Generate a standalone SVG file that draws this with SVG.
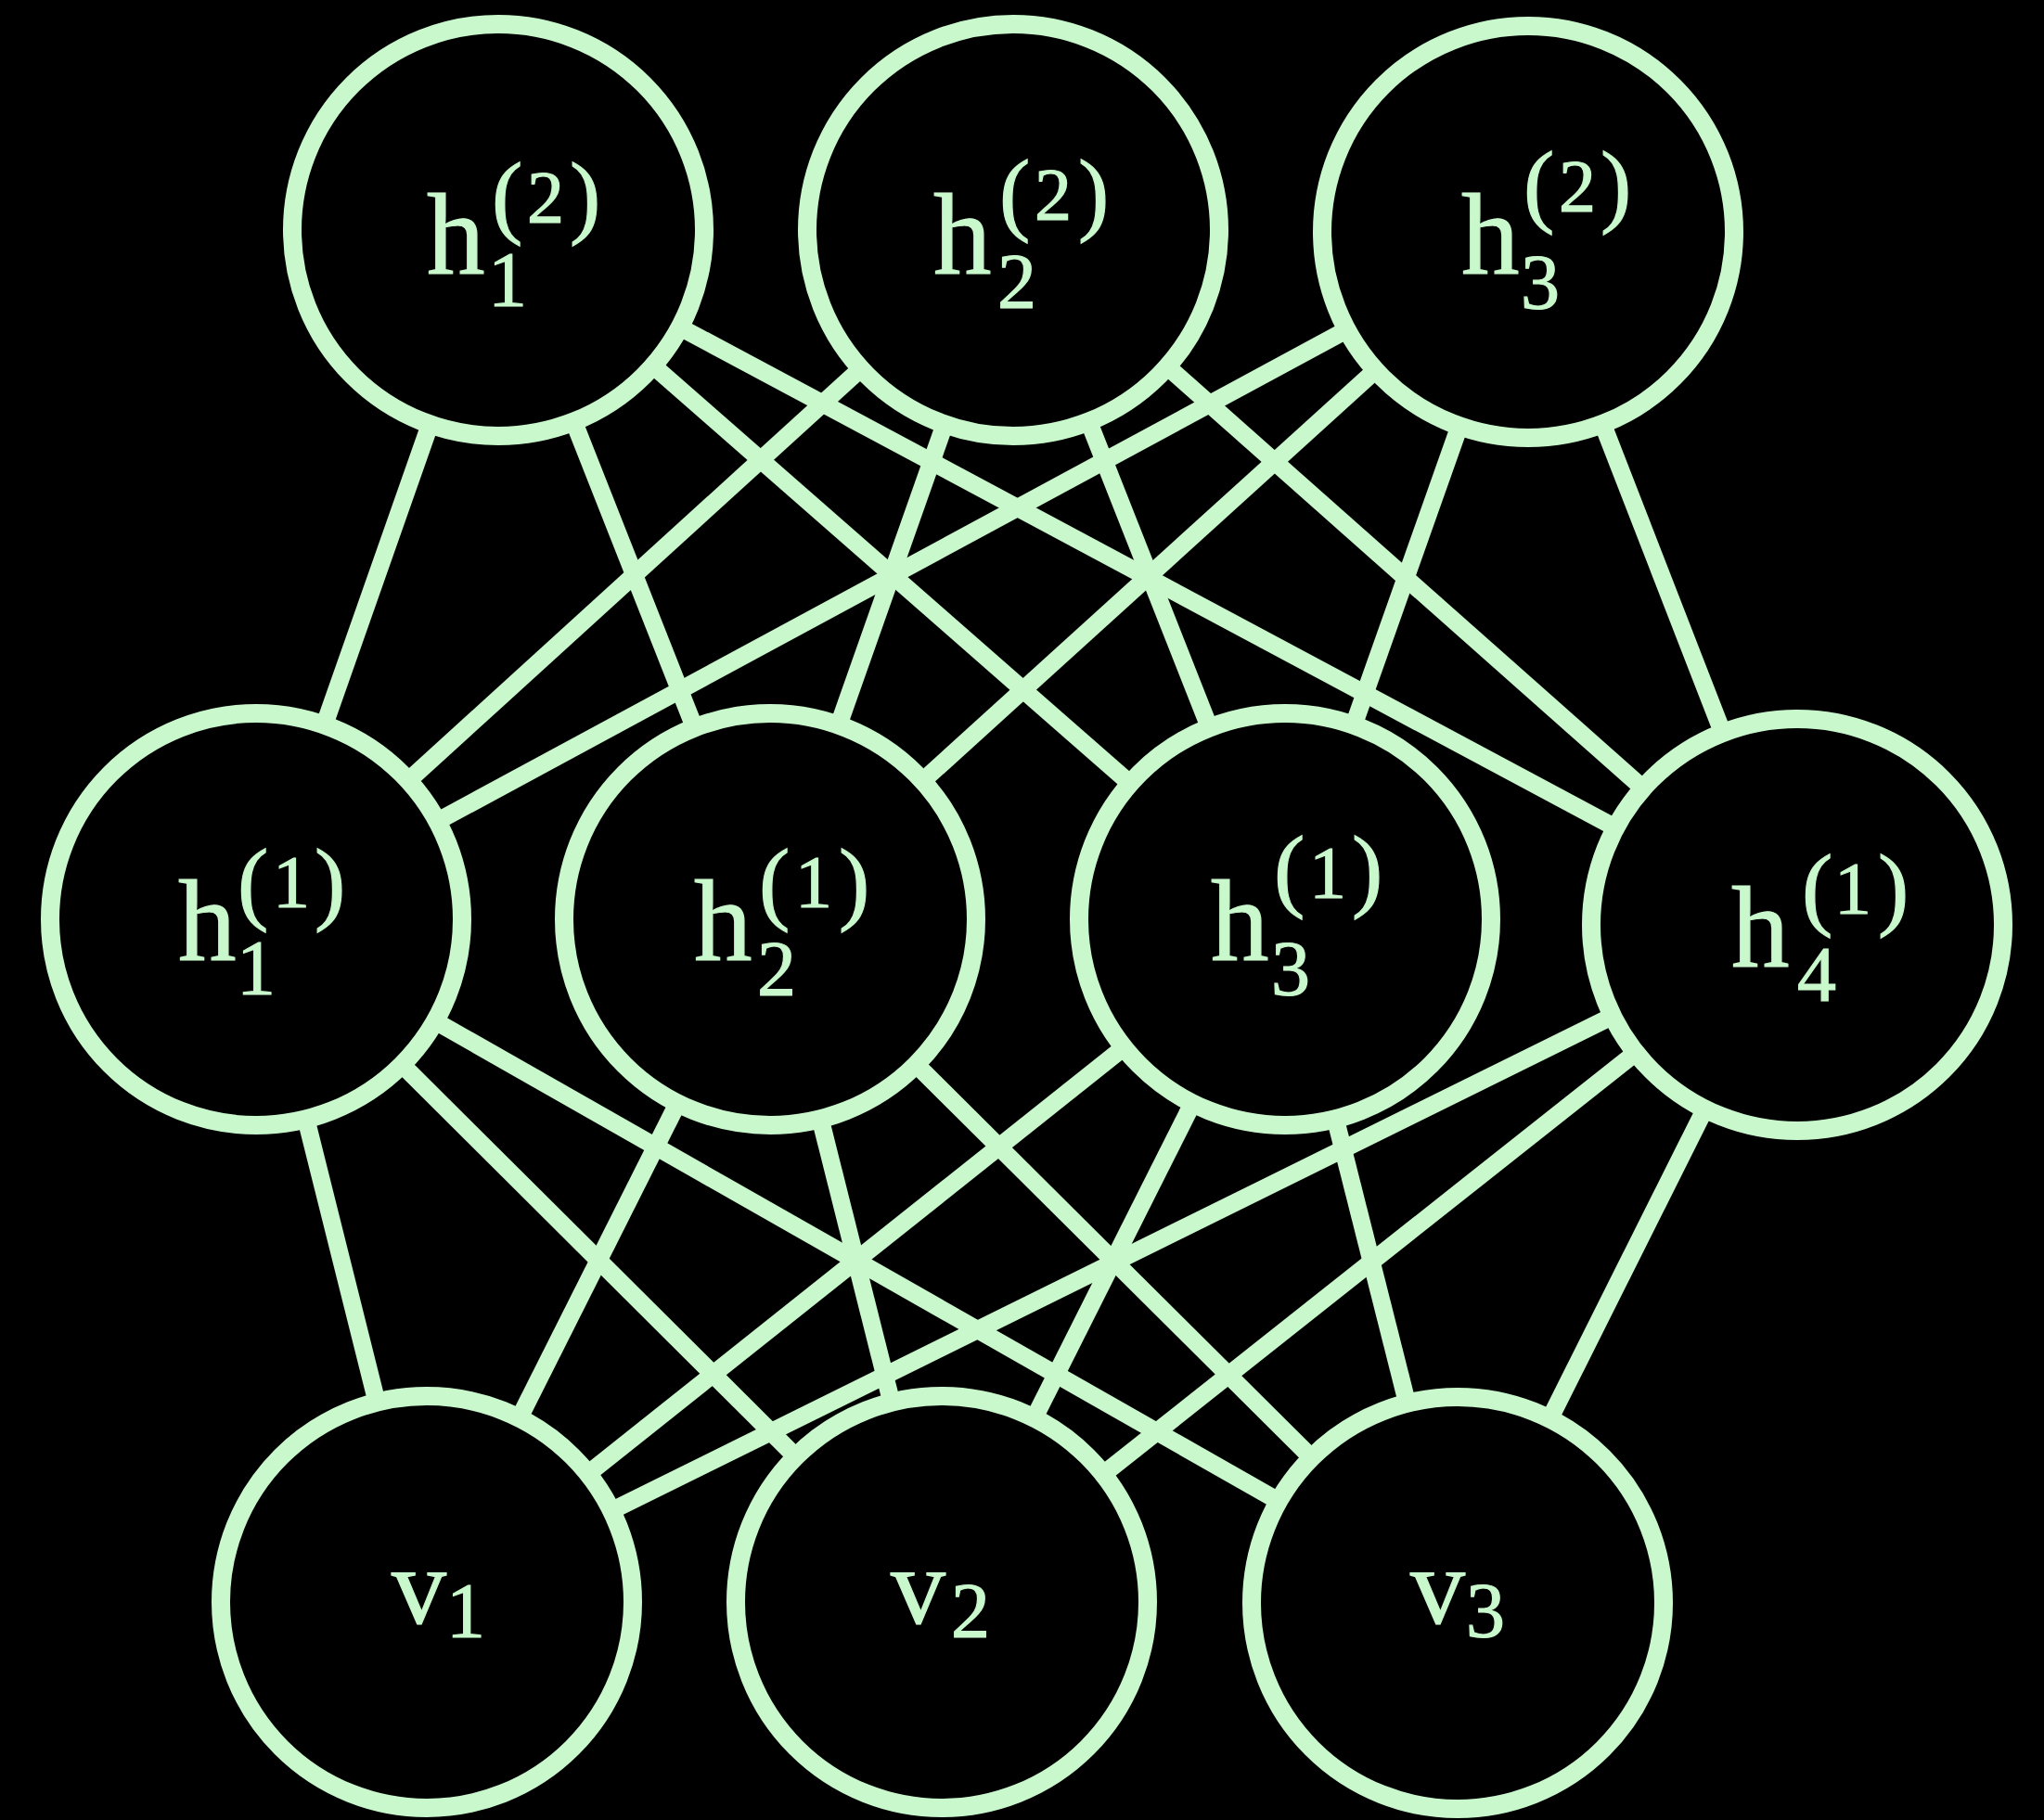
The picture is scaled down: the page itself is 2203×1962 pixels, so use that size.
<svg xmlns="http://www.w3.org/2000/svg" width="2203" height="1962" viewBox="0 0 2203 1962">
  <style>
    .edge { stroke: #c8f8cc; stroke-width: 19; stroke-linecap: butt; }
    .ring { fill: #000000; stroke: #c8f8cc; stroke-width: 20; }
    .lbl { fill: #c8f8cc; stroke: #c8f8cc; stroke-width: 1.2; font-family: "Liberation Serif", "Times New Roman", serif; }
    .big { font-size: 125px; }
    .v { font-size: 118px; }
    .sc { font-size: 80px; }
    .sub { font-size: 84px; }
    .par { font-size: 100px; }
  </style>
  <rect x="0" y="0" width="2203" height="1962" fill="#000000"/>

  <!-- connectors: full bipartite links between consecutive layers -->
  <g id="connectors">
    <!-- h(2) layer to h(1) layer -->
    <line class="edge" x1="537" y1="248" x2="276" y2="991"/>
    <line class="edge" x1="537" y1="248" x2="830" y2="991"/>
    <line class="edge" x1="537" y1="248" x2="1385" y2="991"/>
    <line class="edge" x1="537" y1="248" x2="1937" y2="997"/>
    <line class="edge" x1="1092" y1="248" x2="276" y2="991"/>
    <line class="edge" x1="1092" y1="248" x2="830" y2="991"/>
    <line class="edge" x1="1092" y1="248" x2="1385" y2="991"/>
    <line class="edge" x1="1092" y1="248" x2="1937" y2="997"/>
    <line class="edge" x1="1647" y1="250" x2="276" y2="991"/>
    <line class="edge" x1="1647" y1="250" x2="830" y2="991"/>
    <line class="edge" x1="1647" y1="250" x2="1385" y2="991"/>
    <line class="edge" x1="1647" y1="250" x2="1937" y2="997"/>
    <!-- h(1) layer to visible layer -->
    <line class="edge" x1="276" y1="991" x2="460" y2="1727"/>
    <line class="edge" x1="276" y1="991" x2="1015" y2="1727"/>
    <line class="edge" x1="276" y1="991" x2="1571" y2="1728"/>
    <line class="edge" x1="830" y1="991" x2="460" y2="1727"/>
    <line class="edge" x1="830" y1="991" x2="1015" y2="1727"/>
    <line class="edge" x1="830" y1="991" x2="1571" y2="1728"/>
    <line class="edge" x1="1385" y1="991" x2="460" y2="1727"/>
    <line class="edge" x1="1385" y1="991" x2="1015" y2="1727"/>
    <line class="edge" x1="1385" y1="991" x2="1571" y2="1728"/>
    <line class="edge" x1="1937" y1="997" x2="460" y2="1727"/>
    <line class="edge" x1="1937" y1="997" x2="1015" y2="1727"/>
    <line class="edge" x1="1937" y1="997" x2="1571" y2="1728"/>
  </g>

  <!-- second hidden layer -->
  <g id="h1_2">
    <circle class="ring" cx="537" cy="248" r="222"/>
    <text class="lbl"><tspan class="big" x="460" y="295">h</tspan><tspan class="sub" x="526" y="330">1</tspan><tspan class="par" x="530" y="244">(</tspan><tspan class="sc" x="568" y="240">2</tspan><tspan class="par" x="614" y="244">)</tspan></text>
  </g>
  <g id="h2_2">
    <circle class="ring" cx="1092" cy="248" r="222"/>
    <text class="lbl"><tspan class="big" x="1006" y="295">h</tspan><tspan class="sub" x="1075" y="332">2</tspan><tspan class="par" x="1077" y="241">(</tspan><tspan class="sc" x="1115" y="237">2</tspan><tspan class="par" x="1162" y="241">)</tspan></text>
  </g>
  <g id="h3_2">
    <circle class="ring" cx="1647" cy="250" r="222"/>
    <text class="lbl"><tspan class="big" x="1575" y="295">h</tspan><tspan class="sub" x="1639" y="333">3</tspan><tspan class="par" x="1642" y="232">(</tspan><tspan class="sc" x="1680" y="228">2</tspan><tspan class="par" x="1725" y="232">)</tspan></text>
  </g>

  <!-- first hidden layer -->
  <g id="h1_1">
    <circle class="ring" cx="276" cy="991" r="222"/>
    <text class="lbl"><tspan class="big" x="192" y="1035">h</tspan><tspan class="sub" x="255" y="1072">1</tspan><tspan class="par" x="256" y="984">(</tspan><tspan class="sc" x="294" y="978">1</tspan><tspan class="par" x="339" y="984">)</tspan></text>
  </g>
  <g id="h2_1">
    <circle class="ring" cx="830" cy="991" r="222"/>
    <text class="lbl"><tspan class="big" x="748" y="1035">h</tspan><tspan class="sub" x="816" y="1073">2</tspan><tspan class="par" x="818" y="984">(</tspan><tspan class="sc" x="857" y="978">1</tspan><tspan class="par" x="904" y="984">)</tspan></text>
  </g>
  <g id="h3_1">
    <circle class="ring" cx="1385" cy="991" r="222"/>
    <text class="lbl"><tspan class="big" x="1305" y="1035">h</tspan><tspan class="sub" x="1370" y="1073">3</tspan><tspan class="par" x="1373" y="970">(</tspan><tspan class="sc" x="1411" y="968">1</tspan><tspan class="par" x="1457" y="970">)</tspan></text>
  </g>
  <g id="h4_1">
    <circle class="ring" cx="1937" cy="997" r="222"/>
    <text class="lbl"><tspan class="big" x="1866" y="1042">h</tspan><tspan class="sub" x="1937" y="1079">4</tspan><tspan class="par" x="1942" y="990">(</tspan><tspan class="sc" x="1977" y="985">1</tspan><tspan class="par" x="2024" y="990">)</tspan></text>
  </g>

  <!-- visible layer -->
  <g id="v1">
    <circle class="ring" cx="460" cy="1727" r="222"/>
    <text class="lbl"><tspan class="v" x="422" y="1750">v</tspan><tspan class="sub" x="481" y="1765">1</tspan></text>
  </g>
  <g id="v2">
    <circle class="ring" cx="1015" cy="1727" r="222"/>
    <text class="lbl"><tspan class="v" x="960" y="1750">v</tspan><tspan class="sub" x="1025" y="1765">2</tspan></text>
  </g>
  <g id="v3">
    <circle class="ring" cx="1571" cy="1728" r="222"/>
    <text class="lbl"><tspan class="v" x="1520" y="1750">v</tspan><tspan class="sub" x="1580" y="1765">3</tspan></text>
  </g>
</svg>
